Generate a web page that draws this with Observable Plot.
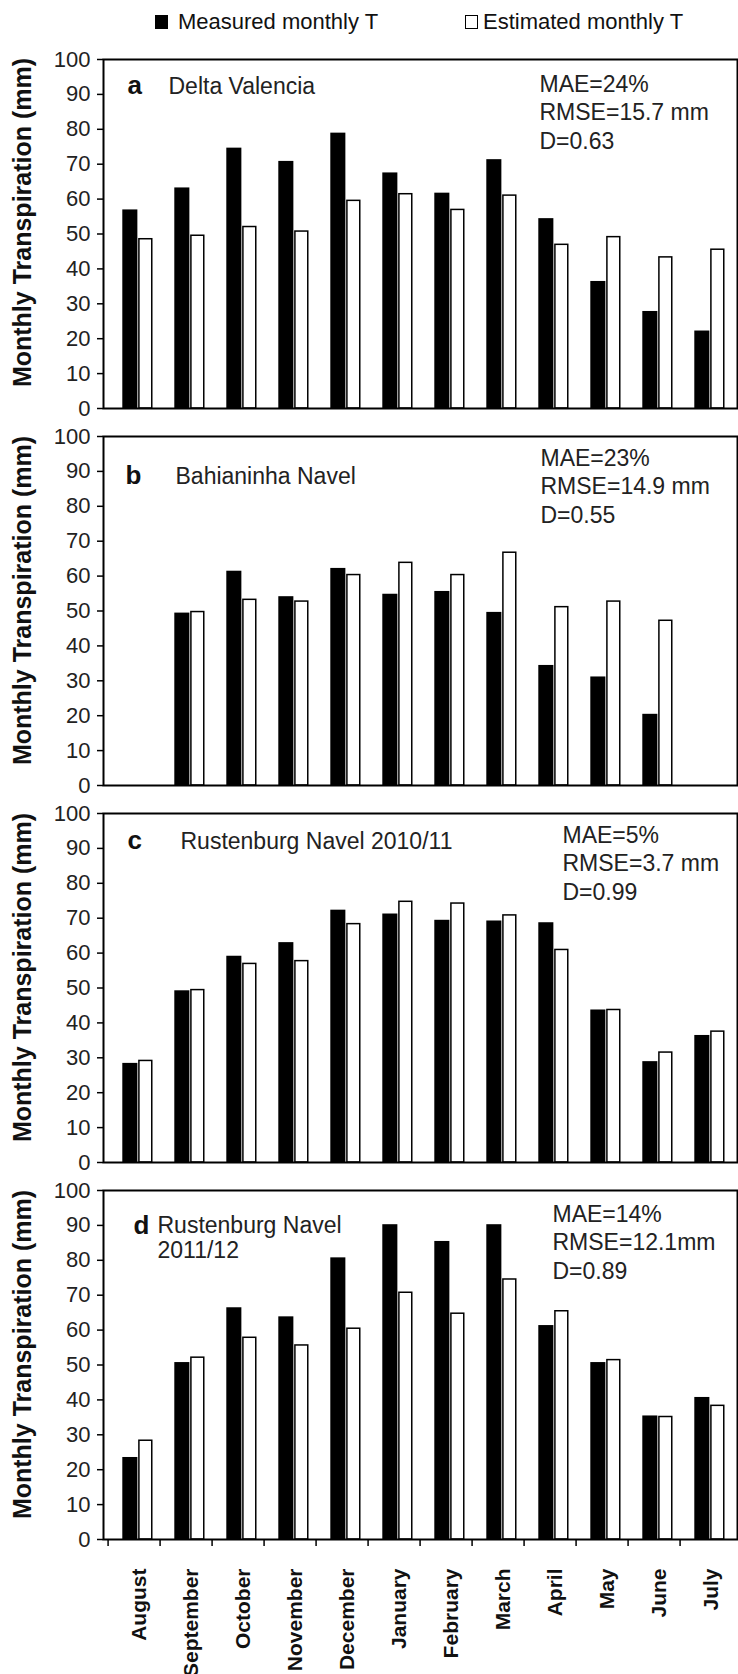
<!DOCTYPE html>
<html>
<head>
<meta charset="utf-8">
<script src="https://cdn.jsdelivr.net/npm/d3@7"></script>
<script src="https://cdn.jsdelivr.net/npm/@observablehq/plot@0.6"></script>
<style>
  html, body { margin: 0; padding: 0; background: #fff; }
  body { width: 738px; height: 1674px; overflow: hidden; font-family: "Liberation Sans", Arial, Helvetica, sans-serif; }
  #legend { position: relative; height: 47px; font-size: 22px; color: #111; }
  #legend .sw { position: absolute; box-sizing: border-box; width: 13px; height: 14px; top: 15px; }
  #legend .lb { position: absolute; top: 11px; line-height: 22px; white-space: nowrap; }
  #chart svg { display: block; }
</style>
</head>
<body>
<div id="legend"></div>
<div id="chart"></div>
<script>
// ---------- data ----------
const months = ["August","September","October","November","December","January","February","March","April","May","June","July"];
const seriesNames = ["Measured monthly T", "Estimated monthly T"];

const measuredA  = [56.9, 63.2, 74.6, 70.8, 78.9, 67.5, 61.7, 71.3, 54.4, 36.4, 27.8, 22.2];
const estimatedA = [48.5, 49.5, 52.0, 50.7, 59.5, 61.4, 56.9, 61.0, 46.9, 49.1, 43.3, 45.5];

const measuredB  = [null, 49.4, 61.4, 54.1, 62.2, 54.8, 55.6, 49.6, 34.4, 31.1, 20.4, null];
const estimatedB = [null, 49.7, 53.2, 52.7, 60.3, 63.8, 60.3, 66.7, 51.1, 52.7, 47.2, null];

const measuredC  = [28.4, 49.2, 59.1, 63.0, 72.3, 71.2, 69.4, 69.2, 68.7, 43.7, 28.9, 36.4];
const estimatedC = [29.1, 49.4, 56.9, 57.7, 68.3, 74.7, 74.2, 70.8, 60.9, 43.7, 31.5, 37.5];

const measuredD  = [23.5, 50.7, 66.4, 63.8, 80.7, 90.2, 85.4, 90.2, 61.3, 50.7, 35.4, 40.7];
const estimatedD = [28.3, 52.1, 57.8, 55.6, 60.4, 70.7, 64.7, 74.5, 65.4, 51.4, 35.1, 38.3];

const panelLetters = ["a", "b", "c", "d"];
const panelTitles = ["Delta Valencia", "Bahianinha Navel", "Rustenburg Navel 2010/11", "Rustenburg Navel\n2011/12"];
const panelStats = [
  "MAE=24%\nRMSE=15.7 mm\nD=0.63",
  "MAE=23%\nRMSE=14.9 mm\nD=0.55",
  "MAE=5%\nRMSE=3.7 mm\nD=0.99",
  "MAE=14%\nRMSE=12.1mm\nD=0.89"
];
const yTicks = [0, 10, 20, 30, 40, 50, 60, 70, 80, 90, 100];
const yLabel = "Monthly Transpiration (mm)";

// ---------- styling / layout (not data) ----------
const FONT = "'Liberation Sans', Arial, Helvetica, sans-serif";
const W = 738, ML = 103, MR = 1, MT = 12, PH = 349;
const panelMB = [16, 16, 16, 135];
const annot = [
  {lx: 24, ly: 34, tx: 65, ty: 34, sx: 436, sy: 89},
  {lx: 22, ly: 47, tx: 72, ty: 47, sx: 437, sy: 86},
  {lx: 24, ly: 35, tx: 77, ty: 35, sx: 459, sy: 86},
  {lx: 30, ly: 43, tx: 54, ty: 67, sx: 449, sy: 88}
];
const labelShift = [-11, -10, -10, -10];

// ---------- legend ----------
const legend = document.getElementById("legend");
legend.innerHTML =
  `<span class="sw" style="left:155px;background:#000"></span>` +
  `<span class="lb" style="left:178px">${seriesNames[0]}</span>` +
  `<span class="sw" style="left:465px;background:#fff;border:1.5px solid #000"></span>` +
  `<span class="lb" style="left:483px">${seriesNames[1]}</span>`;

// ---------- panels ----------
const allMeasured = [measuredA, measuredB, measuredC, measuredD];
const allEstimated = [estimatedA, estimatedB, estimatedC, estimatedD];
const chart = document.getElementById("chart");

panelLetters.forEach((letter, i) => {
  const meas = months.map((m, j) => ({month: m, value: allMeasured[i][j]})).filter(d => d.value != null);
  const est = months.map((m, j) => ({month: m, value: allEstimated[i][j]})).filter(d => d.value != null);
  const isLast = i === panelLetters.length - 1;
  const height = MT + PH + panelMB[i];
  const band = (W - ML - MR) / months.length;
  const a = annot[i];

  const marks = [
    Plot.barY(meas, {x: "month", y: "value", fill: "#000", insetLeft: 14.3, insetRight: band - 30.2}),
    Plot.barY(est, {x: "month", y: "value", fill: "#fff", stroke: "#000", strokeWidth: 1.5, insetLeft: 30.9, insetRight: band - 44.6}),
    Plot.frame({stroke: "#000", strokeWidth: 2}),
    Plot.axisY({ticks: yTicks, tickSize: 6, tickPadding: 7, fontSize: 22, label: null, strokeWidth: 1.5, fill: "#222"}),
    Plot.text([letter], {text: d => d, frameAnchor: "top-left", dx: a.lx, dy: a.ly, textAnchor: "start", lineAnchor: "bottom", fontSize: 26, fontWeight: "bold", fill: "#111"}),
    Plot.text([panelTitles[i]], {text: d => d, frameAnchor: "top-left", dx: a.tx, dy: a.ty, textAnchor: "start", lineAnchor: "bottom", lineHeight: 1.08, fontSize: 23, fill: "#222"}),
    Plot.text([panelStats[i]], {text: d => d, frameAnchor: "top-left", dx: a.sx, dy: a.sy, textAnchor: "start", lineAnchor: "bottom", lineHeight: 1.22, fontSize: 23, fill: "#222"})
  ];
  if (isLast) {
    marks.push(Plot.axisX({tickSize: 7, text: null, label: null, dx: -band / 2, strokeWidth: 1.5}));
    marks.push(Plot.axisX({tickSize: 0, tickPadding: 29, tickRotate: -90, label: null, dx: 5, fontSize: 21, fontWeight: "bold", fill: "#111"}));
  }

  const svg = Plot.plot({
    width: W,
    height,
    marginLeft: ML,
    marginRight: MR,
    marginTop: MT,
    marginBottom: panelMB[i],
    style: {fontFamily: FONT, background: "transparent", overflow: "visible"},
    x: {domain: months, padding: 0, ...(isLast ? {} : {axis: null})},
    y: {domain: [0, 100]},
    marks
  });

  // rotated y-axis title, centred on the y scale's range
  const yScale = svg.scale("y");
  const yMid = (yScale.range[0] + yScale.range[1]) / 2 + labelShift[i];
  d3.select(svg).append("text")
    .attr("transform", `translate(23,${yMid}) rotate(-90)`)
    .attr("text-anchor", "middle")
    .attr("dy", "0.32em")
    .attr("font-family", FONT)
    .attr("font-size", 25)
    .attr("font-weight", "bold")
    .attr("fill", "#111")
    .text(yLabel);

  chart.appendChild(svg);
});
</script>
</body>
</html>
